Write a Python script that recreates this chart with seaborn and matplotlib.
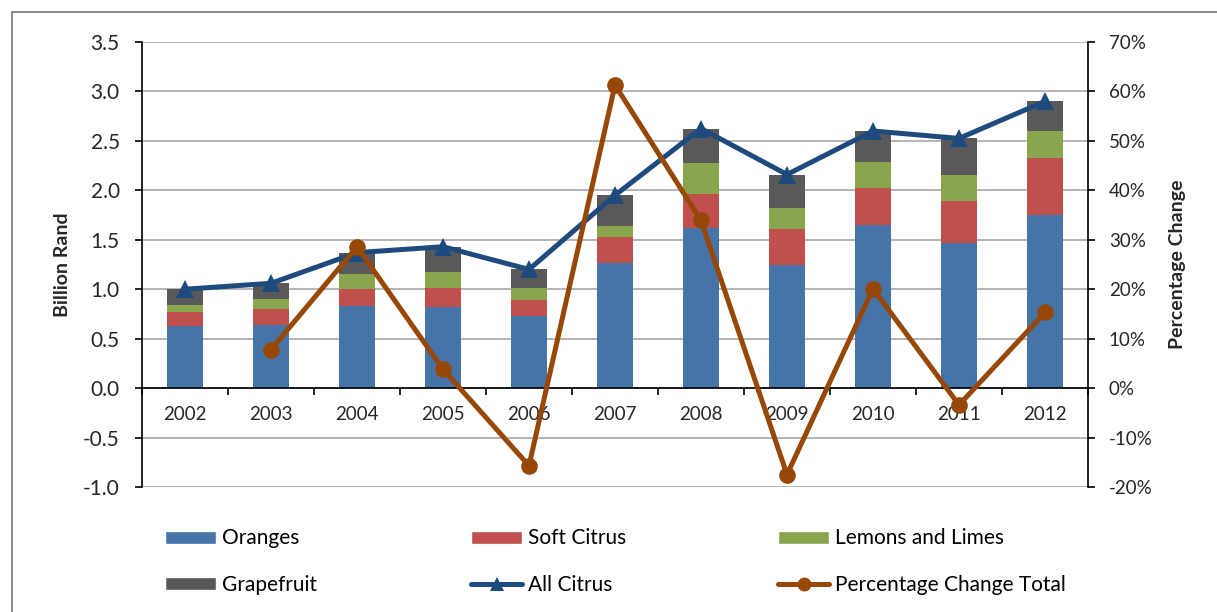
import numpy as np
import pandas as pd
import matplotlib
matplotlib.use("Agg")
import matplotlib.pyplot as plt
from matplotlib.patches import Patch, Rectangle
from matplotlib.lines import Line2D
from matplotlib.ticker import FuncFormatter, MultipleLocator, FixedLocator
import seaborn as sns

# ---- data (billion Rand, percentage change of total) ----
years = ["2002", "2003", "2004", "2005", "2006", "2007", "2008", "2009", "2010", "2011", "2012"]
oranges = [0.625, 0.635, 0.83, 0.82, 0.73, 1.27, 1.62, 1.245, 1.645, 1.465, 1.75]
soft_citrus = [0.14, 0.17, 0.17, 0.19, 0.165, 0.255, 0.345, 0.36, 0.375, 0.425, 0.58]
lemons_limes = [0.08, 0.10, 0.15, 0.16, 0.115, 0.11, 0.31, 0.22, 0.27, 0.26, 0.27]
grapefruit = [0.155, 0.155, 0.22, 0.26, 0.19, 0.315, 0.35, 0.335, 0.31, 0.375, 0.30]
all_citrus = [1.0, 1.06, 1.37, 1.43, 1.20, 1.95, 2.625, 2.16, 2.60, 2.525, 2.90]
pct_change = [np.nan, 7.8, 28.6, 3.8, -15.7, 61.3, 33.9, -17.5, 20.1, -3.4, 15.3]

c_orange = "#4673A8"
c_soft = "#C0504D"
c_lemon = "#89A54E"
c_grape = "#595959"
c_all = "#1F4A7E"
c_pct = "#974706"

sns.set_theme(style="white")
plt.rcParams["font.family"] = ["Lato", "DejaVu Sans"]
plt.rcParams["text.color"] = "#000000"

df = pd.DataFrame({
    "year": years,
    "Oranges": oranges,
    "Soft Citrus": soft_citrus,
    "Lemons and Limes": lemons_limes,
    "Grapefruit": grapefruit,
})
cols = ["Oranges", "Soft Citrus", "Lemons and Limes", "Grapefruit"]
colors = [c_orange, c_soft, c_lemon, c_grape]
cum = df[cols].cumsum(axis=1)

fig = plt.figure(figsize=(12.17, 6.12), dpi=100)
ax = fig.add_axes([142 / 1217, 1 - 487 / 612, (1088 - 142) / 1217, (487 - 42) / 612])

# stacked bars drawn back to front from cumulative heights
for col, color in reversed(list(zip(cols, colors))):
    sns.barplot(x=df["year"], y=cum[col], color=color, saturation=1,
                width=0.41, ax=ax, linewidth=0, zorder=2)

xpos = np.arange(len(years))
sns.lineplot(x=xpos, y=all_citrus, ax=ax, color=c_all, lw=3.6, marker="^",
             markersize=13, markeredgewidth=0, zorder=4)

ax.set_xlim(-0.5, len(years) - 0.5)
ax.set_ylim(-1.0, 3.5)
ax.yaxis.set_major_locator(MultipleLocator(0.5))
ax.yaxis.set_major_formatter(FuncFormatter(lambda v, p: f"{v:.1f}"))
ax.grid(axis="y", color="#A0A0A0", lw=1.1, zorder=0)
ax.set_axisbelow(True)
ax.set_xlabel("")
ax.set_ylabel("Billion Rand", fontsize=14, fontweight="bold", labelpad=9)

for s in ["top", "right"]:
    ax.spines[s].set_visible(False)
ax.spines["bottom"].set_position(("data", 0))
ax.spines["bottom"].set_color("black")
ax.spines["bottom"].set_linewidth(1.2)
ax.spines["left"].set_color("black")
ax.spines["left"].set_linewidth(1.2)

ax.tick_params(axis="y", which="major", direction="out", length=5, width=1.2,
               color="black", pad=11, labelsize=15, left=True)
ax.tick_params(axis="x", which="major", length=0, pad=13, labelsize=13.5)
ax.xaxis.set_minor_locator(FixedLocator(np.arange(-0.5, len(years), 1.0)))
ax.tick_params(axis="x", which="minor", direction="out", length=5, width=1.2,
               color="black", bottom=True)

# percentage change on the secondary axis
ax2 = ax.twinx()
sns.lineplot(x=xpos, y=pct_change, ax=ax2, color=c_pct, lw=3.6, marker="o",
             markersize=12, markeredgewidth=0, zorder=5)
ax2.set_ylim(-20, 70)
ax2.yaxis.set_major_locator(MultipleLocator(10))
ax2.yaxis.set_major_formatter(FuncFormatter(lambda v, p: f"{v:.0f}%"))
ax2.tick_params(axis="y", direction="out", length=5, width=1.2, color="black",
                pad=10, labelsize=13.5, right=True)
for s in ["top", "left", "bottom"]:
    ax2.spines[s].set_visible(False)
ax2.spines["right"].set_color("black")
ax2.spines["right"].set_linewidth(1.2)
ax2.set_ylabel("Percentage Change", fontsize=14, fontweight="bold", labelpad=12)
ax2.grid(False)

# legend in three columns of two rows
entries = [
    [Patch(facecolor=c_orange, label="Oranges"), Patch(facecolor=c_grape, label="Grapefruit")],
    [Patch(facecolor=c_soft, label="Soft Citrus"),
     Line2D([], [], color=c_all, lw=3.6, marker="^", markersize=10, markeredgewidth=0, label="All Citrus")],
    [Patch(facecolor=c_lemon, label="Lemons and Limes"),
     Line2D([], [], color=c_pct, lw=3.6, marker="o", markersize=10, markeredgewidth=0,
            label="Percentage Change Total")],
]
for handles, xpx in zip(entries, [165, 471, 778]):
    fig.legend(handles=handles, loc="center left",
               bbox_to_anchor=(xpx / 1217, 1 - 561.5 / 612),
               frameon=False, fontsize=15, handlelength=2.45, handleheight=0.6,
               handletextpad=0.28, labelspacing=1.25, borderpad=0, borderaxespad=0,
               numpoints=1)

# outer chart border
fig.add_artist(Rectangle((12 / 1217, -0.1), 1.2, (600 / 612) + 0.1,
                         transform=fig.transFigure, fill=False,
                         edgecolor="#8C8C8C", lw=1.5))

fig.savefig("out.png", dpi=100)
